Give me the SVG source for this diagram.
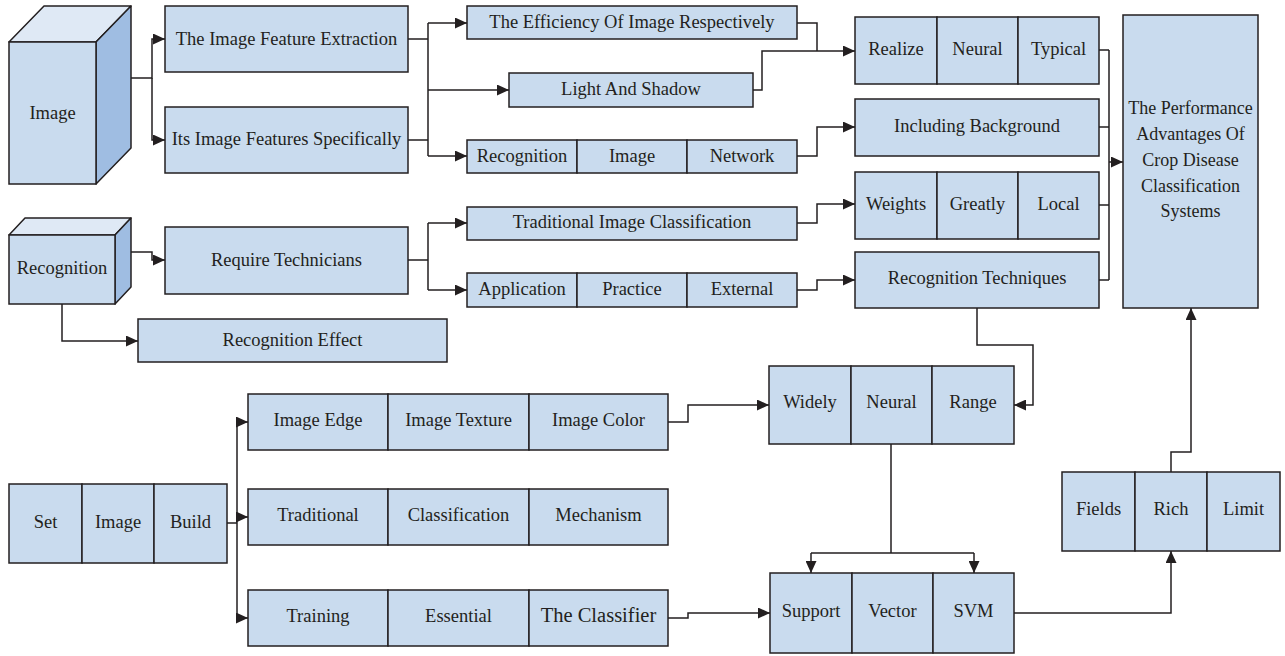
<svg xmlns="http://www.w3.org/2000/svg" width="1285" height="656" viewBox="0 0 1285 656">
<style>
.b{fill:#c9dbee;stroke:#231f20;stroke-width:1.5}
.top{fill:#dfe9f5;stroke:#231f20;stroke-width:1.5;stroke-linejoin:round}
.side{fill:#9fbde2;stroke:#231f20;stroke-width:1.5;stroke-linejoin:round}
text{font-family:"Liberation Serif","Times New Roman",serif;font-size:18.5px;fill:#231f20;text-anchor:middle;dominant-baseline:central}
.big{font-size:20.5px}
.perf{font-size:18px}
#connectors path{fill:none;stroke:#231f20;stroke-width:1.5}
</style>
<defs>
<marker id="ah" markerUnits="userSpaceOnUse" markerWidth="13" markerHeight="11" refX="12" refY="5.5" orient="auto">
<path d="M0,0 L12,5.5 L0,11 z" fill="#231f20"/>
</marker>
</defs>
<rect width="1285" height="656" fill="#ffffff"/>

<g id="connectors">
<path d="M131,78 H152 V39 H165" marker-end="url(#ah)"/>
<path d="M152,78 V140 H165" marker-end="url(#ah)"/>
<path d="M408,39 H428 M408,140 H428 M428,23 V156"/>
<path d="M428,23 H467" marker-end="url(#ah)"/>
<path d="M428,90 H509" marker-end="url(#ah)"/>
<path d="M428,156 H467" marker-end="url(#ah)"/>
<path d="M797,23 H817 V51"/>
<path d="M753,90 H762 V51 H855" marker-end="url(#ah)"/>
<path d="M797,156 H817 V127 H855" marker-end="url(#ah)"/>
<path d="M131,252 H152 V260 H165" marker-end="url(#ah)"/>
<path d="M62,304 V341 H138" marker-end="url(#ah)"/>
<path d="M408,260 H428 M428,223 V290"/>
<path d="M428,223 H467" marker-end="url(#ah)"/>
<path d="M428,290 H467" marker-end="url(#ah)"/>
<path d="M797,223 H817 V204 H855" marker-end="url(#ah)"/>
<path d="M797,290 H817 V280 H855" marker-end="url(#ah)"/>
<path d="M1099,50 H1109 M1099,127 H1109 M1099,205 H1109 M1099,280 H1109 M1109,50 V280"/>
<path d="M1109,162 H1123" marker-end="url(#ah)"/>
<path d="M977,308 V345 H1033 V405 H1014" marker-end="url(#ah)"/>
<path d="M227,523 H237 M237,422 V618"/>
<path d="M237,422 H248" marker-end="url(#ah)"/>
<path d="M237,517 H248" marker-end="url(#ah)"/>
<path d="M237,618 H248" marker-end="url(#ah)"/>
<path d="M668,422 H688 V405 H769" marker-end="url(#ah)"/>
<path d="M668,618 H688 V613 H770" marker-end="url(#ah)"/>
<path d="M891,444 V553 M811,553 H974"/>
<path d="M811,553 V573" marker-end="url(#ah)"/>
<path d="M974,553 V573" marker-end="url(#ah)"/>
<path d="M1014,613 H1171 V551" marker-end="url(#ah)"/>
<path d="M1171,472 V452 H1191 V308" marker-end="url(#ah)"/>
</g>

<g id="image-cube">
<polygon class="top" points="9,42 44,6 131,6 96,42"/>
<polygon class="side" points="96,42 131,6 131,148 96,184"/>
<rect class="b" x="9" y="42" width="87" height="142"/>
<text x="52.5" y="113">Image</text>
</g>

<g id="recognition-cube">
<polygon class="top" points="9,235 25,218 131,218 115,235"/>
<polygon class="side" points="115,235 131,218 131,287 115,304"/>
<rect class="b" x="9" y="235" width="106" height="69"/>
<text x="62" y="268">Recognition</text>
</g>

<g id="feature-extraction">
<rect class="b" x="165" y="6" width="243" height="66"/>
<text x="286.5" y="39">The Image Feature Extraction</text>
</g>

<g id="features-specifically">
<rect class="b" x="165" y="107" width="243" height="66"/>
<text x="286.5" y="139">Its Image Features Specifically</text>
</g>

<g id="efficiency">
<rect class="b" x="467" y="6" width="330" height="33"/>
<text x="632" y="22">The Efficiency Of Image Respectively</text>
</g>

<g id="light-shadow">
<rect class="b" x="509" y="73" width="244" height="34"/>
<text x="631" y="89">Light And Shadow</text>
</g>

<g id="recognition-image-network">
<rect class="b" x="467" y="140" width="110" height="33"/>
<rect class="b" x="577" y="140" width="110" height="33"/>
<rect class="b" x="687" y="140" width="110" height="33"/>
<text x="522" y="156">Recognition</text>
<text x="632" y="156">Image</text>
<text x="742" y="156">Network</text>
</g>

<g id="require-technicians">
<rect class="b" x="165" y="227" width="243" height="67"/>
<text x="286.5" y="260">Require Technicians</text>
</g>

<g id="recognition-effect">
<rect class="b" x="138" y="319" width="309" height="43"/>
<text x="292.5" y="340">Recognition Effect</text>
</g>

<g id="traditional-image-classification">
<rect class="b" x="467" y="207" width="330" height="33"/>
<text x="632" y="222">Traditional Image Classification</text>
</g>

<g id="application-practice-external">
<rect class="b" x="467" y="273" width="110" height="34"/>
<rect class="b" x="577" y="273" width="110" height="34"/>
<rect class="b" x="687" y="273" width="110" height="34"/>
<text x="522" y="289">Application</text>
<text x="632" y="289">Practice</text>
<text x="742" y="289">External</text>
</g>

<g id="realize-neural-typical">
<rect class="b" x="855" y="17" width="82" height="67"/>
<rect class="b" x="937" y="17" width="81" height="67"/>
<rect class="b" x="1018" y="17" width="81" height="67"/>
<text x="896" y="49">Realize</text>
<text x="977.5" y="49">Neural</text>
<text x="1058.5" y="49">Typical</text>
</g>

<g id="including-background">
<rect class="b" x="855" y="99" width="244" height="57"/>
<text x="977" y="126">Including Background</text>
</g>

<g id="weights-greatly-local">
<rect class="b" x="855" y="172" width="82" height="67"/>
<rect class="b" x="937" y="172" width="81" height="67"/>
<rect class="b" x="1018" y="172" width="81" height="67"/>
<text x="896" y="204">Weights</text>
<text x="977.5" y="204">Greatly</text>
<text x="1058.5" y="204">Local</text>
</g>

<g id="recognition-techniques">
<rect class="b" x="855" y="252" width="244" height="56"/>
<text x="977" y="278">Recognition Techniques</text>
</g>

<g id="performance">
<rect class="b" x="1123" y="15" width="135" height="293"/>
<text class="perf" x="1190.5" y="108">The Performance</text>
<text class="perf" x="1190.5" y="134">Advantages Of</text>
<text class="perf" x="1190.5" y="160">Crop Disease</text>
<text class="perf" x="1190.5" y="185.5">Classification</text>
<text class="perf" x="1190.5" y="211">Systems</text>
</g>

<g id="set-image-build">
<rect class="b" x="9" y="484" width="73" height="79"/>
<rect class="b" x="82" y="484" width="72" height="79"/>
<rect class="b" x="154" y="484" width="73" height="79"/>
<text x="45.5" y="522">Set</text>
<text x="118" y="522">Image</text>
<text x="190.5" y="522">Build</text>
</g>

<g id="image-edge-texture-color">
<rect class="b" x="248" y="394" width="140" height="56"/>
<rect class="b" x="388" y="394" width="141" height="56"/>
<rect class="b" x="529" y="394" width="139" height="56"/>
<text x="318" y="420">Image Edge</text>
<text x="458.5" y="420">Image Texture</text>
<text x="598.5" y="420">Image Color</text>
</g>

<g id="traditional-classification-mechanism">
<rect class="b" x="248" y="489" width="140" height="56"/>
<rect class="b" x="388" y="489" width="141" height="56"/>
<rect class="b" x="529" y="489" width="139" height="56"/>
<text x="318" y="515">Traditional</text>
<text x="458.5" y="515">Classification</text>
<text x="598.5" y="515">Mechanism</text>
</g>

<g id="training-essential-classifier">
<rect class="b" x="248" y="590" width="140" height="56"/>
<rect class="b" x="388" y="590" width="141" height="56"/>
<rect class="b" x="529" y="590" width="139" height="56"/>
<text x="318" y="616">Training</text>
<text x="458.5" y="616">Essential</text>
<text class="big" x="598.5" y="615">The Classifier</text>
</g>

<g id="widely-neural-range">
<rect class="b" x="769" y="366" width="82" height="78"/>
<rect class="b" x="851" y="366" width="81" height="78"/>
<rect class="b" x="932" y="366" width="82" height="78"/>
<text x="810" y="402">Widely</text>
<text x="891.5" y="402">Neural</text>
<text x="973" y="402">Range</text>
</g>

<g id="support-vector-svm">
<rect class="b" x="770" y="573" width="82" height="80"/>
<rect class="b" x="852" y="573" width="81" height="80"/>
<rect class="b" x="933" y="573" width="81" height="80"/>
<text x="811" y="611">Support</text>
<text x="892.5" y="611">Vector</text>
<text x="973.5" y="611">SVM</text>
</g>

<g id="fields-rich-limit">
<rect class="b" x="1062" y="472" width="73" height="79"/>
<rect class="b" x="1135" y="472" width="72" height="79"/>
<rect class="b" x="1207" y="472" width="73" height="79"/>
<text x="1098.5" y="509">Fields</text>
<text x="1171" y="509">Rich</text>
<text x="1243.5" y="509">Limit</text>
</g>
</svg>
